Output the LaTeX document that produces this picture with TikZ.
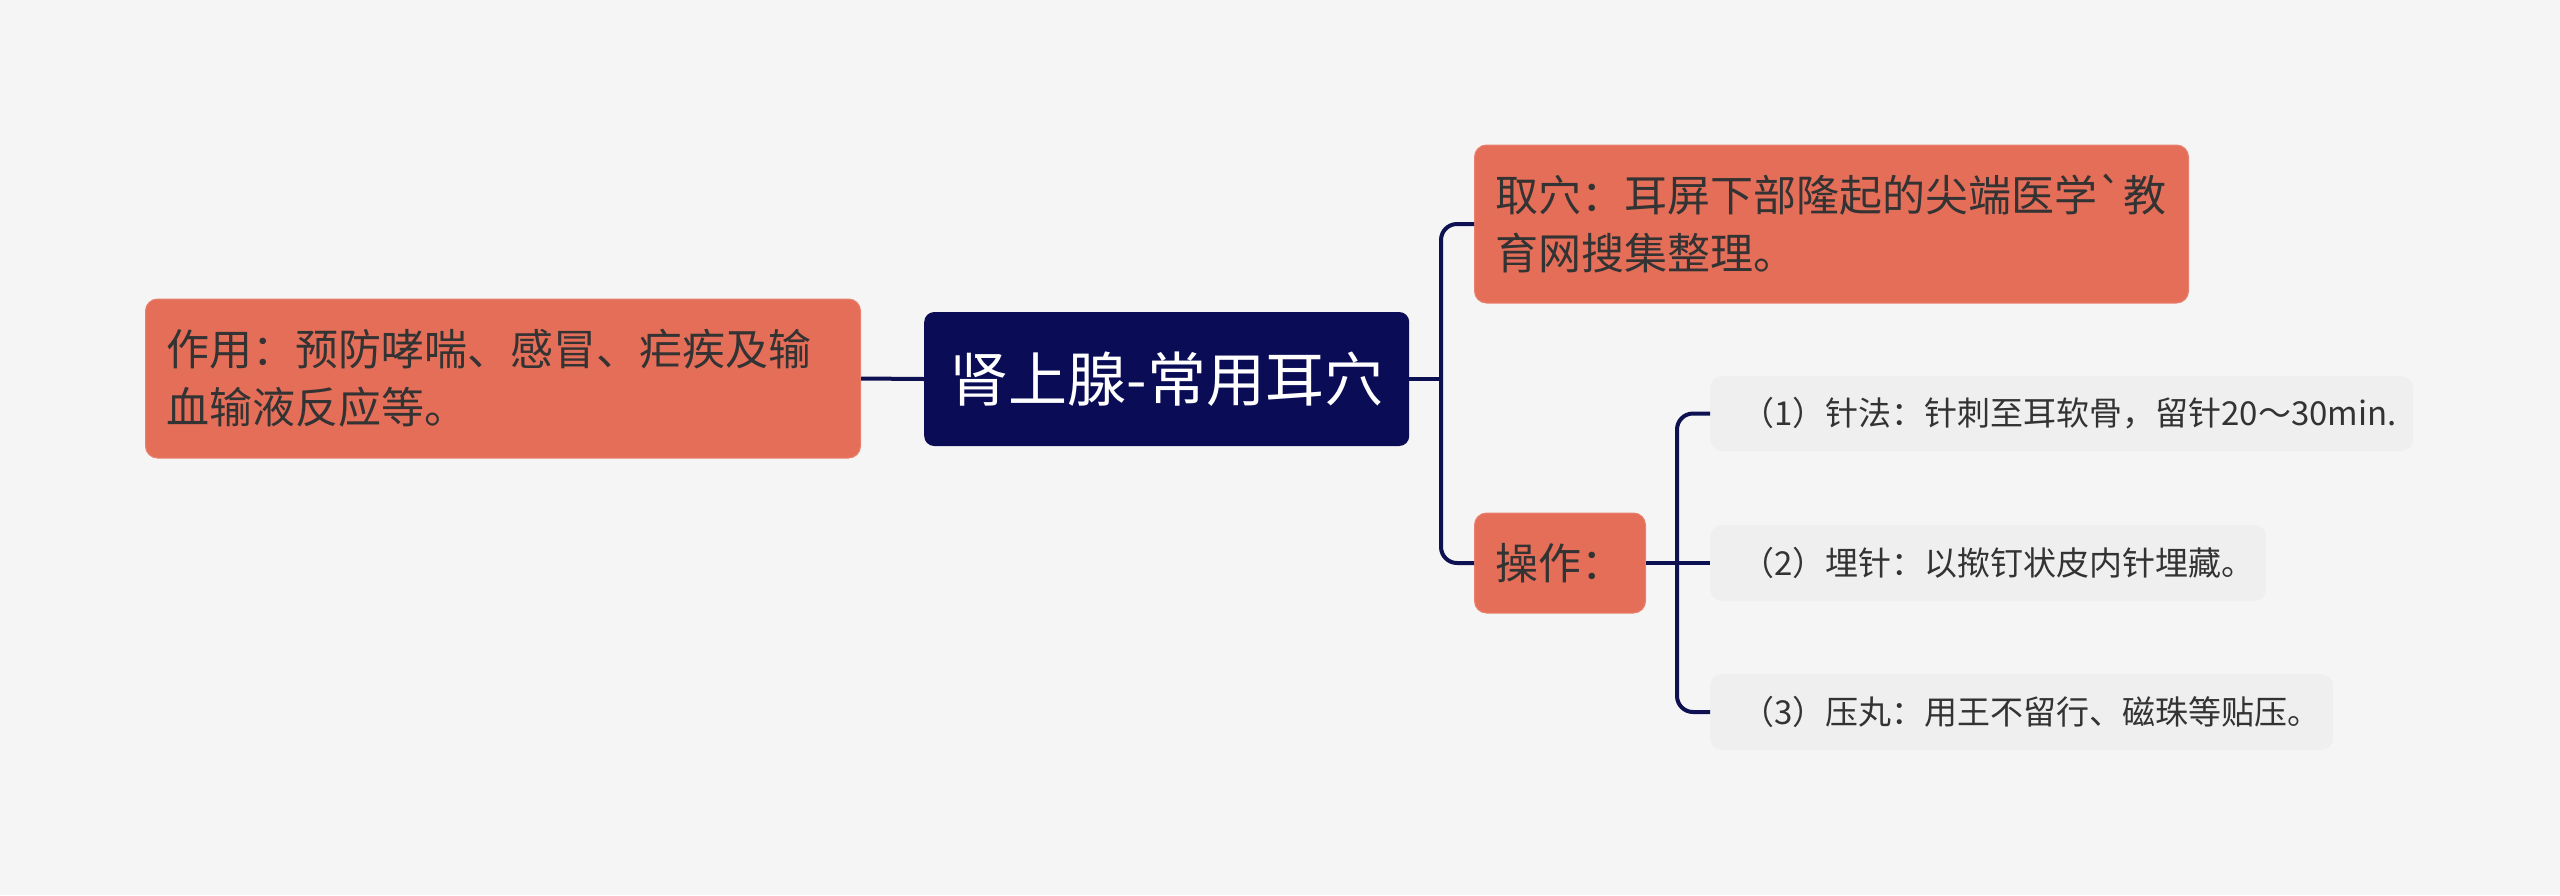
\documentclass[tikz,border=0pt]{standalone}
\usepackage{fontspec}
\newfontfamily\cjkfont{Noto Sans CJK SC}
\usetikzlibrary{calc}
\definecolor{bg}{HTML}{F5F5F5}
\definecolor{navy}{HTML}{0A0D56}
\definecolor{line}{HTML}{0D1152}
\definecolor{orange}{HTML}{E56E59}
\definecolor{orangeedge}{HTML}{E8826F}
\definecolor{leaf}{HTML}{EFEFEF}
\definecolor{txt}{HTML}{333333}
\begin{document}
\begin{tikzpicture}[x=1pt,y=-1pt,
  box/.style={anchor=west, rounded corners=12pt, inner ysep=0pt, align=left},
  obox/.style={box, fill=orange, draw=orangeedge, line width=1pt, text=txt,
    font=\cjkfont\fontsize{43}{58}\selectfont, inner xsep=21pt},
  lbox/.style={box, fill=leaf, draw=none, text=txt,
    font=\cjkfont\fontsize{33}{40}\selectfont, inner xsep=31pt},
  rootbox/.style={anchor=west, rounded corners=10pt, fill=navy, text=white,
    font=\cjkfont\fontsize{59}{66}\selectfont, align=center, inner sep=0pt},
  conn/.style={draw=line, line width=4pt, rounded corners=16pt}
]
\useasboundingbox[fill=bg] (0,0) rectangle (2560,895);

\node[rootbox, minimum width=485pt, minimum height=134pt] (root) at (924,379) {肾上腺-常用耳穴};

\node[obox, text width=673pt, minimum height=159pt] (left) at (145,378.5)
  {作用：预防哮喘、感冒、疟疾及输\\血输液反应等。};

\node[obox, text width=672pt, minimum height=158pt] (top) at (1474,224)
  {取穴：耳屏下部隆起的尖端医学`教\\育网搜集整理。};

\node[obox, text width=129pt, minimum height=100pt] (op) at (1474,563) {操作：};

\node[lbox, text width=641pt, minimum height=75pt] (l1) at (1710,413.5)
  {（1）针法：针刺至耳软骨，留针20～30min.};
\node[lbox, text width=494pt, minimum height=76pt] (l2) at (1710,563)
  {（2）埋针：以揿钉状皮内针埋藏。};
\node[lbox, text width=561pt, minimum height=76pt] (l3) at (1710,712)
  {（3）压丸：用王不留行、磁珠等贴压。};

\coordinate (j1) at (1441,379);
\coordinate (j2) at (1677,563);

\draw[conn] (left.east) -- (root.west);
\draw[conn] (root.east) -- (j1);
\draw[conn] (top.west) -| (j1) |- (op.west);
\draw[conn] (op.east) -- (l2.west);
\draw[conn] (l1.west) -| (j2) |- (l3.west);
\end{tikzpicture}
\end{document}
